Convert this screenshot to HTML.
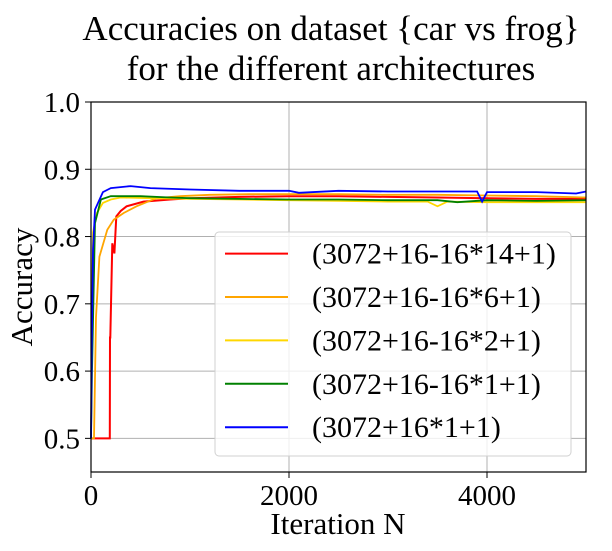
<!DOCTYPE html>
<html><head><meta charset="utf-8"><style>
html,body{margin:0;padding:0;background:#fff}
svg{display:block;font-family:"Liberation Serif",serif}
</style></head><body>
<svg id="chart" width="612" height="551" viewBox="0 0 612 551">
<text x="331" y="40" font-size="35" text-anchor="middle">Accuracies on dataset {car vs frog}</text>
<text x="331" y="80" font-size="35" text-anchor="middle">for the different architectures</text>
<g id="grid"></g>
<g id="series"></g>
<rect x="91" y="102" width="495" height="370" fill="none" stroke="#000" stroke-width="1.2"/>
<g id="ticks"></g>
<text x="338" y="534" font-size="31" text-anchor="middle">Iteration N</text>
<text transform="translate(32,287) rotate(-90)" font-size="31" text-anchor="middle">Accuracy</text>
<g id="legend"></g>
</svg>
<script>
const xTicks=[0,2000,4000];
const yTicks=[0.5,0.6,0.7,0.8,0.9,1.0];
const yTickLabels=["0.5","0.6","0.7","0.8","0.9","1.0"];
const seriesNames=["(3072+16-16*14+1)","(3072+16-16*6+1)","(3072+16-16*2+1)","(3072+16-16*1+1)","(3072+16*1+1)"];
const seriesColors=["#ff0000","#ffa500","#ffd700","#008000","#0000ff"];
const redX=[0,190,192,195,215,236,256,300,360,530,800,1000,1500,2000,2500,3000,3500,4000,4500,5000];
const redY=[0.5,0.5,0.65,0.65,0.79,0.775,0.83,0.838,0.845,0.852,0.855,0.857,0.859,0.86,0.86,0.859,0.858,0.857,0.856,0.856];
const orangeX=[0,30,50,85,165,230,330,460,660,900,1200,1600,2000,2500,3000,3500,4000,4500,5000];
const orangeY=[0.5,0.5,0.68,0.77,0.81,0.825,0.835,0.845,0.857,0.86,0.862,0.863,0.863,0.863,0.862,0.862,0.861,0.86,0.858];
const yellowX=[0,10,20,60,120,200,300,600,1000,1500,2000,2500,3000,3400,3500,3600,4000,4500,5000];
const yellowY=[0.5,0.7,0.806,0.835,0.85,0.855,0.858,0.857,0.856,0.855,0.854,0.853,0.852,0.852,0.845,0.852,0.851,0.851,0.851];
const greenX=[0,5,10,40,100,200,500,800,1000,1500,2000,2500,3000,3500,3700,4000,4500,5000];
const greenY=[0.5,0.55,0.6,0.82,0.855,0.86,0.86,0.858,0.857,0.856,0.855,0.855,0.854,0.854,0.851,0.854,0.853,0.854];
const blueX=[0,3,7,20,40,120,200,400,600,1000,1500,2000,2100,2500,3000,3500,3900,3950,4000,4500,4900,5000];
const blueY=[0.5,0.55,0.63,0.78,0.84,0.866,0.872,0.875,0.872,0.87,0.868,0.868,0.865,0.868,0.867,0.867,0.867,0.852,0.866,0.866,0.864,0.867];
const allX=[redX,orangeX,yellowX,greenX,blueX];
const allY=[redY,orangeY,yellowY,greenY,blueY];
const NS="http://www.w3.org/2000/svg";
const sx=v=>91+v*(495/5000);
const sy=v=>102+(1.0-v)*(370/0.55);
function mk(t,a){const e=document.createElementNS(NS,t);for(const k in a)e.setAttribute(k,a[k]);return e;}
const grid=document.getElementById('grid'),ticks=document.getElementById('ticks');
xTicks.forEach((t,i)=>{
 const g=mk('line',{x1:sx(t),x2:sx(t),y1:102,y2:472,stroke:'#b0b0b0','stroke-width':1});
 
 
 grid.appendChild(g);
 const tk=mk('line',{x1:sx(t),x2:sx(t),y1:472,y2:478,stroke:'#000'});
 
 
 ticks.appendChild(tk);
 const tx=mk('text',{x:sx(t),y:505,'font-size':29,'text-anchor':'middle'});
 tx.textContent=String(t);
 
 
 ticks.appendChild(tx);
});
yTicks.forEach((t,i)=>{
 const g=mk('line',{x1:91,x2:586,y1:sy(t),y2:sy(t),stroke:'#b0b0b0','stroke-width':1});
 
 
 grid.appendChild(g);
 const tk=mk('line',{x1:85,x2:91,y1:sy(t),y2:sy(t),stroke:'#000'});
 
 
 ticks.appendChild(tk);
 const tx=mk('text',{x:80,y:sy(t)+10,'font-size':29,'text-anchor':'end'});
 tx.textContent=yTickLabels[i];
 
 
 ticks.appendChild(tx);
});
const series=document.getElementById('series');
allX.forEach((xs,i)=>{
 const d=xs.map((x,j)=>(j?'L':'M')+sx(x).toFixed(1)+','+sy(allY[i][j]).toFixed(1)).join('');
 const p=mk('path',{d:d,fill:'none',stroke:seriesColors[i],'stroke-width':i===0?2:1.8});
 
 
 series.appendChild(p);
});
const lg=document.getElementById('legend');
const box=mk('rect',{x:215,y:232,width:356,height:224,rx:4,fill:'rgba(255,255,255,0.8)',stroke:'#d0d0d0'});


lg.appendChild(box);
seriesNames.forEach((n,i)=>{
 const y=253.6+i*43.4;
 const l=mk('line',{x1:225,x2:288,y1:y,y2:y,stroke:seriesColors[i],'stroke-width':2});
 
 
 lg.appendChild(l);
 const t=mk('text',{x:312,y:y+10,'font-size':30});
 t.textContent=n;
 
 
 lg.appendChild(t);
});
</script>
</body></html>
